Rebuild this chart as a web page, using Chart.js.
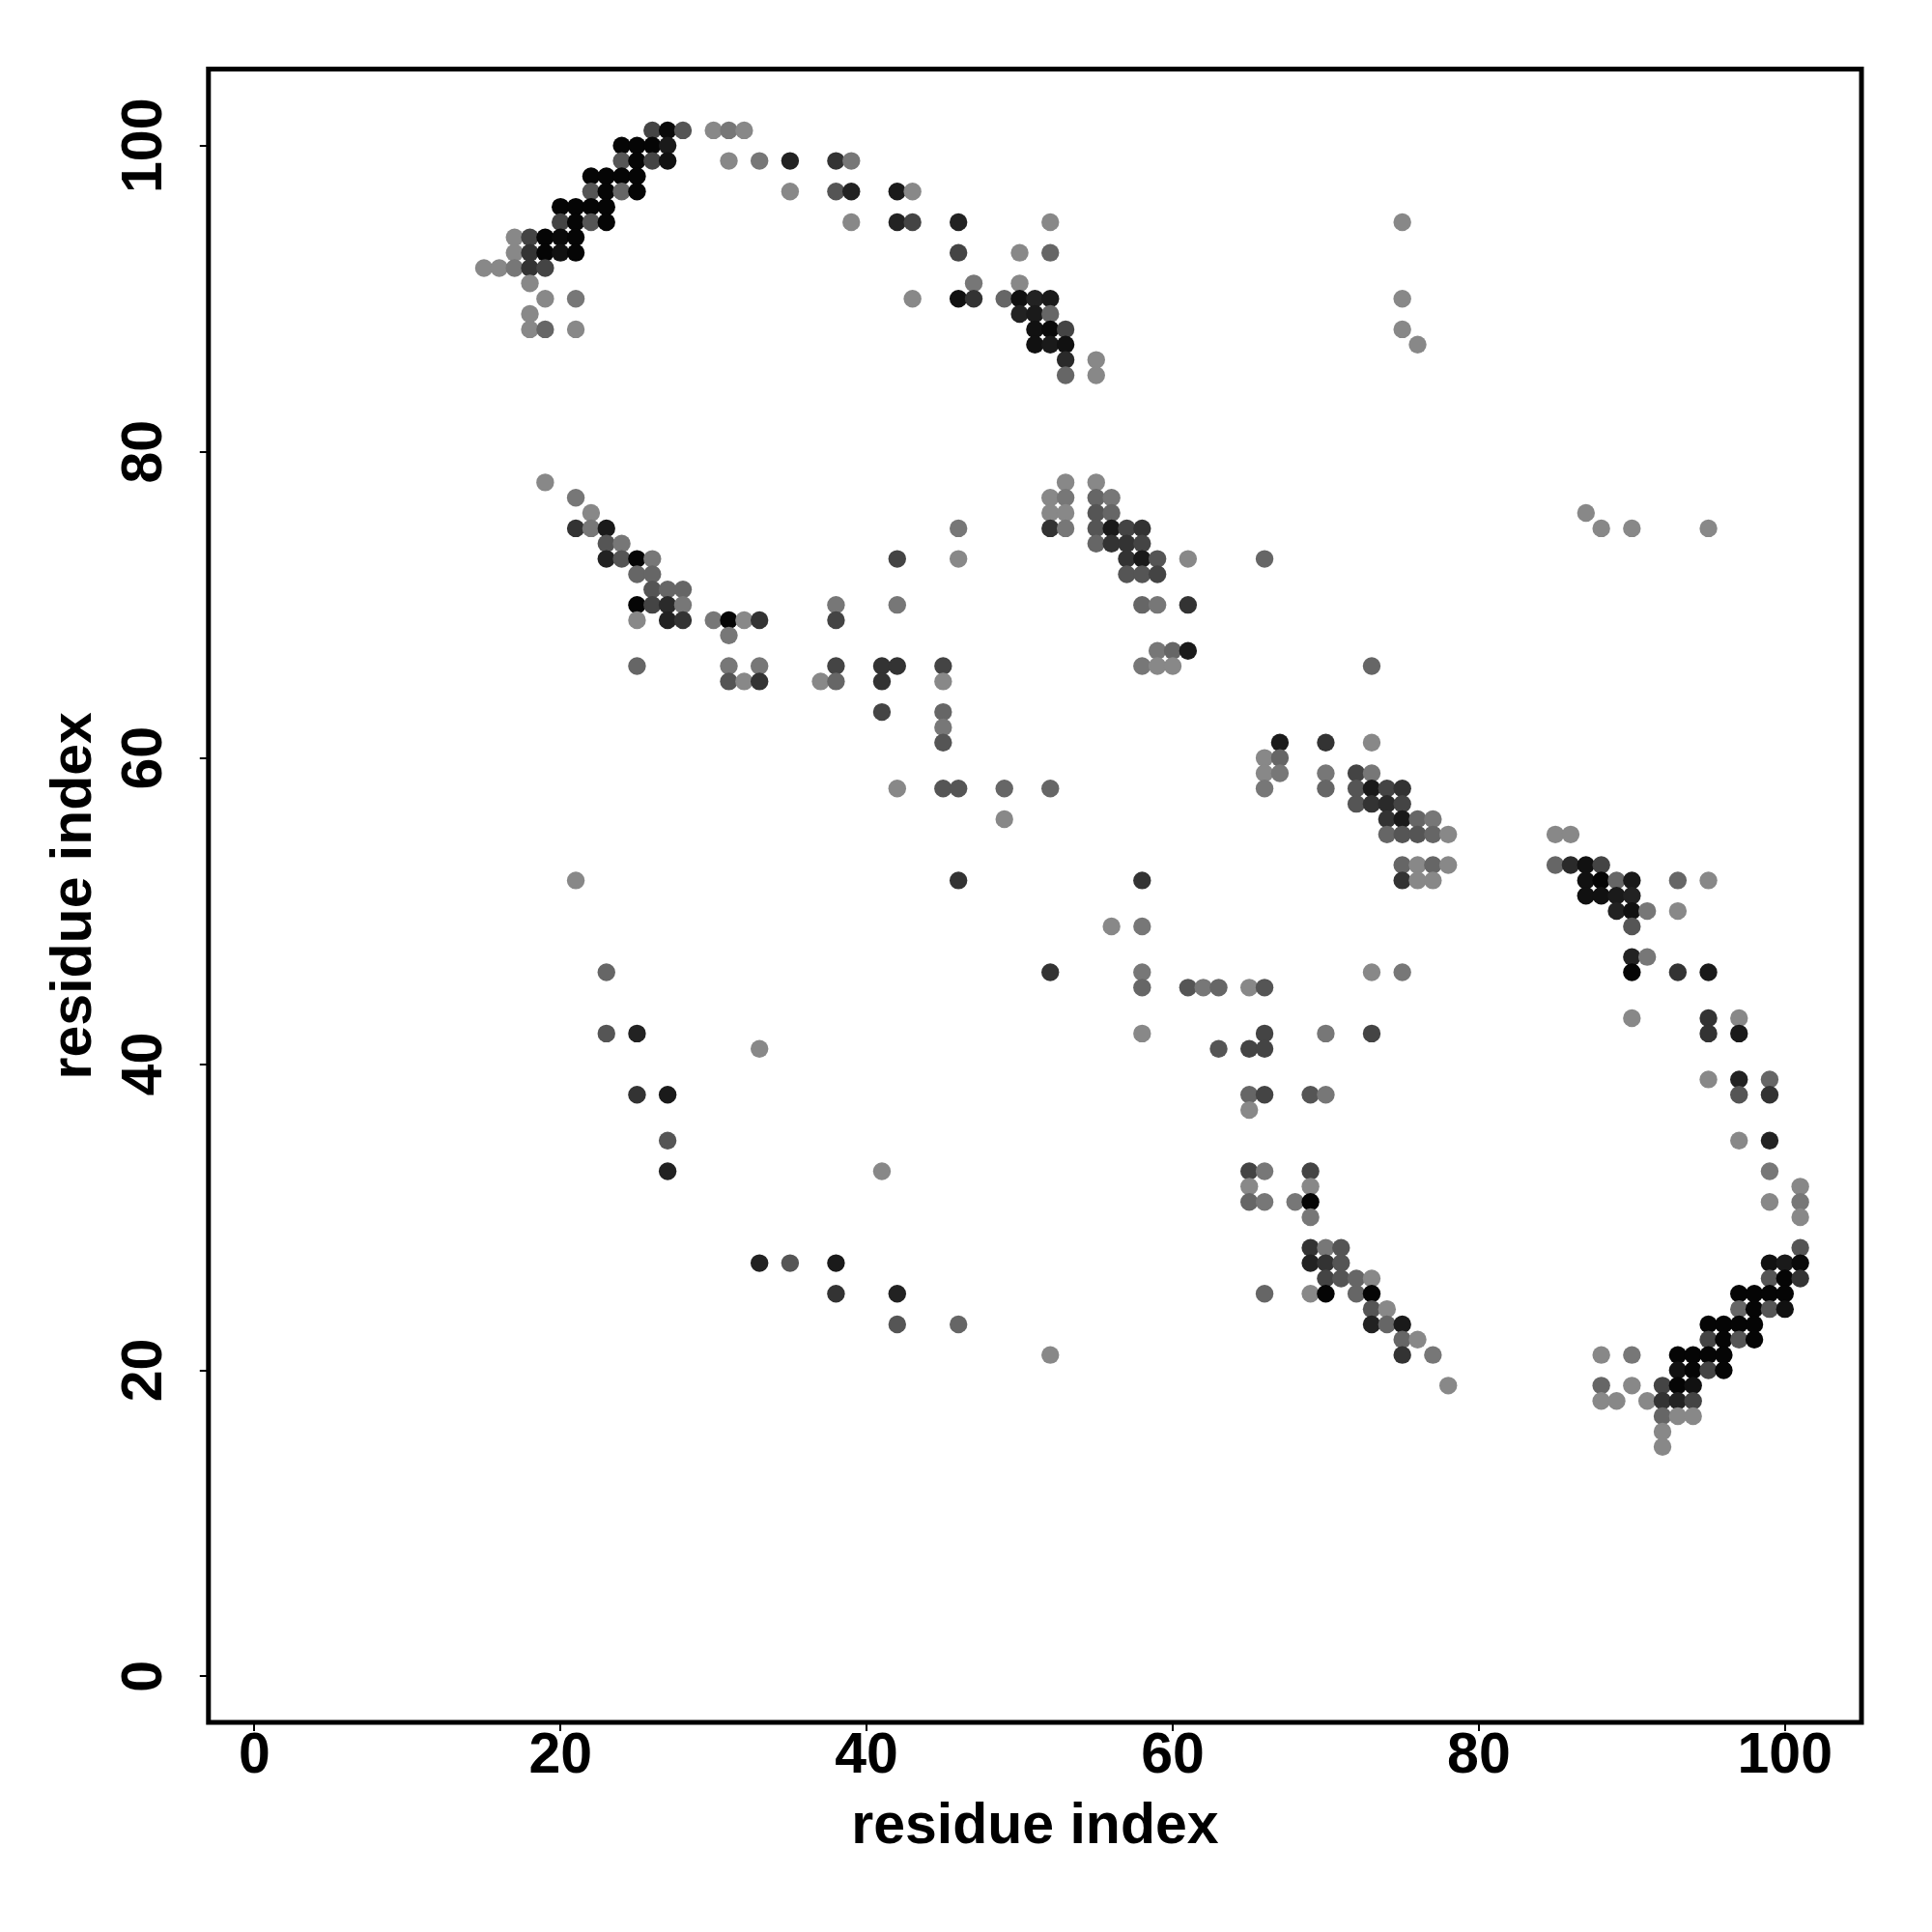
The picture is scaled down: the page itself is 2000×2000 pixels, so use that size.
<!DOCTYPE html>
<html><head><meta charset="utf-8">
<script src="https://cdn.jsdelivr.net/npm/chart.js@4.4.1/dist/chart.umd.min.js"></script>
<style>html,body{margin:0;padding:0;background:#fff}#wrap{width:2000px;height:2000px;position:relative}</style>
</head><body><div id="wrap"><canvas id="c"></canvas></div>
<script>
// contact rows: residue index on y, partner residues on x, grey level of each dot
const rowY = [101,100,99,98,97,96,95,94,93,92,91,90,89,88,87,86,85,78,77,76,75,74,73,72,71,70,69,68,67,66,65,63,62,61,60,59,58,57,56,55,53,52,51,50,49,47,46,45,43,42,41,39,38,37,35,33,32,31,30,28,27,26,25,24,23,22,21,20,19,18,17,16,15];
const rowX = [
 [26,27,28,30,31,32],
 [24,25,26,27],
 [24,25,26,27,31,33,35,38,39],
 [22,23,24,25],
 [22,23,24,25,35,38,39,42,43],
 [20,21,22,23],
 [20,21,22,23,39,42,43,46,52,75],
 [17,18,19,20,21],
 [17,18,19,20,21,46,50,52],
 [15,16,17,18,19],
 [18,47,50],
 [19,21,43,46,47,49,50,51,52,75],
 [18,50,51,52],
 [18,19,21,51,52,53,75],
 [51,52,53,76],
 [53,55],
 [53,55],
 [19,53,55],
 [21,52,53,55,56],
 [22,52,53,55,56,87],
 [21,22,23,46,52,53,55,56,57,58,88,90,95],
 [23,24,55,56,57,58],
 [23,24,25,26,42,46,57,58,59,61,66],
 [25,26,57,58,59],
 [26,27,28],
 [25,26,27,28,38,42,58,59,61],
 [25,27,28,30,31,32,33,38],
 [31],
 [59,60,61],
 [25,31,33,38,41,42,45,58,59,60,73],
 [31,32,33,37,38,41,45],
 [41,45],
 [45],
 [45,67,70,73],
 [66,67],
 [66,67,70,72,73],
 [42,45,46,49,52,66,70,72,73,74,75],
 [72,73,74,75],
 [49,74,75,76,77],
 [74,75,76,77,78,85,86],
 [75,76,77,78,85,86,87,88],
 [21,46,58,75,76,77,87,88,89,90,93,95],
 [87,88,89,90],
 [89,90,91,93],
 [56,58,90],
 [90,91],
 [23,52,58,73,75,90,93,95],
 [58,61,62,63,65,66],
 [90,95,97],
 [23,25,58,66,70,73,95,97],
 [33,63,65,66],
 [95,97,99],
 [25,27,65,66,69,70,97,99],
 [65],
 [27,97,99],
 [27,41,65,66,69,99],
 [65,69,101],
 [65,66,68,69,99,101],
 [69,101],
 [69,70,71,101],
 [33,35,38,69,70,71,99,100,101],
 [70,71,72,73,99,100,101],
 [38,42,66,69,70,72,73,97,98,99,100],
 [73,74,97,98,99,100],
 [42,46,73,74,75,95,96,97,98],
 [75,76,95,96,97,98],
 [52,75,77,88,90,93,94,95,96],
 [93,94,95,96],
 [78,88,90,92,93,94],
 [88,89,91,92,93,94],
 [92,93,94],
 [92],
 [92]
];
const rowGray = [
 [68,10,85,136,119,136],
 [5,5,5,26],
 [85,5,68,17,136,119,34,51,119],
 [5,5,5,5],
 [85,5,102,5,136,85,34,26,136],
 [5,5,5,5],
 [68,5,85,5,136,34,68,34,136,136],
 [136,68,5,10,5],
 [136,51,5,17,5,68,136,102],
 [136,136,119,51,68],
 [136,119,136],
 [136,119,136,17,51,102,17,34,26,136],
 [136,34,26,102],
 [136,102,136,17,10,68,136],
 [17,26,17,136],
 [42,136],
 [102,136],
 [136,136,136],
 [119,136,119,102,119],
 [136,136,136,85,102,136],
 [51,119,26,119,51,119,85,26,68,51,136,136,136],
 [85,119,102,51,51,68],
 [34,85,5,119,68,136,51,26,85,136,102],
 [102,102,85,85,68],
 [85,102,102],
 [5,68,42,119,119,119,102,119,51],
 [136,34,51,119,5,136,51,68],
 [119],
 [119,102,26],
 [102,119,119,68,51,51,68,119,136,136,102],
 [85,136,51,136,102,51,136],
 [68,102],
 [119],
 [85,26,51,136],
 [136,102],
 [136,119,119,68,119],
 [136,85,85,102,102,119,102,85,26,68,51],
 [85,51,42,68],
 [136,51,26,102,119],
 [102,85,85,102,136,136,136],
 [102,136,102,136,102,42,17,68],
 [136,51,51,51,136,136,17,5,102,26,102,136],
 [17,17,26,34],
 [34,17,119,136],
 [136,119,85],
 [34,119],
 [102,51,119,136,119,5,51,26],
 [102,85,119,102,136,85],
 [136,51,136],
 [85,34,136,68,119,68,51,26],
 [136,85,68,68],
 [136,34,102],
 [51,26,102,68,85,119,85,51],
 [136],
 [85,136,34],
 [34,136,68,119,68,119],
 [136,136,136],
 [102,119,119,5,136,119],
 [119,136],
 [51,119,85,85],
 [34,85,26,34,51,85,17,26,10],
 [68,85,102,136,85,5,51],
 [51,34,102,136,5,102,5,5,5,5,5],
 [85,136,102,5,85,17],
 [85,102,34,102,26,5,5,5,5],
 [102,136,68,5,85,5],
 [136,51,119,136,119,5,5,5,5],
 [17,5,68,5],
 [136,102,136,68,5,17],
 [136,136,136,51,34,68],
 [102,136,136],
 [136],
 [136]
];
const tickValues = [0,20,40,60,80,100];
const xTitle = 'residue index';
const yTitle = 'residue index';

const points = [];
const colors = [];
rowY.forEach((y, r) => {
  rowX[r].forEach((x, k) => {
    points.push({x: x, y: y});
    const g = rowGray[r][k];
    colors.push('rgb(' + g + ',' + g + ',' + g + ')');
  });
});

const FONT = {family: '"Liberation Sans", Arial, Helvetica, sans-serif', weight: 'bold', size: 59};

const boxPlugin = {
  id: 'box',
  afterDatasetsDraw(chart) {
    const a = chart.chartArea, ctx = chart.ctx;
    ctx.save();
    ctx.strokeStyle = '#000';
    ctx.lineWidth = 5;
    ctx.strokeRect(a.left, a.top, a.right - a.left, a.bottom - a.top);
    ctx.restore();
  }
};

const setTicks = (s) => { s.ticks = tickValues.map(v => ({value: v})); };

new Chart(document.getElementById('c'), {
  type: 'scatter',
  data: {datasets: [{
    data: points,
    pointBackgroundColor: colors,
    pointBorderWidth: 0,
    pointRadius: 9.2,
    pointHoverRadius: 9.2
  }]},
  options: {
    responsive: true,
    maintainAspectRatio: false,
    devicePixelRatio: 1,
    animation: false,
    events: [],
    layout: {padding: {left: 0, top: 71.5, right: 73, bottom: 0}},
    plugins: {legend: {display: false}, tooltip: {enabled: false}},
    scales: {
      x: {
        type: 'linear', min: -3, max: 105,
        afterBuildTicks: setTicks,
        afterFit: (s) => { s.height = 217; },
        grid: {drawOnChartArea: false, drawTicks: true, tickLength: 9, color: '#000', lineWidth: 2},
        border: {display: false},
        ticks: {autoSkip: false, maxRotation: 0, padding: 3.4, color: '#000',
                font: Object.assign({}, FONT, {lineHeight: 0.8}),
                callback: (v) => String(v)},
        title: {display: true, text: xTitle, color: '#000',
                font: Object.assign({}, FONT, {lineHeight: 1.2}),
                padding: {top: 0, bottom: 73}}
      },
      y: {
        type: 'linear', min: -3, max: 105,
        afterBuildTicks: setTicks,
        afterFit: (s) => { s.width = 215.8; },
        grid: {drawOnChartArea: false, drawTicks: true, tickLength: 9, color: '#000', lineWidth: 2},
        border: {display: false},
        ticks: {autoSkip: false, minRotation: 90, maxRotation: 90, crossAlign: 'center',
                padding: 6.6, color: '#000', font: FONT,
                callback: (v) => String(v)},
        title: {display: true, text: yTitle, color: '#000',
                font: Object.assign({}, FONT, {lineHeight: 1.2}),
                padding: {top: 42.2, bottom: 0}}
      }
    }
  },
  plugins: [boxPlugin]
});
</script>
</body></html>
